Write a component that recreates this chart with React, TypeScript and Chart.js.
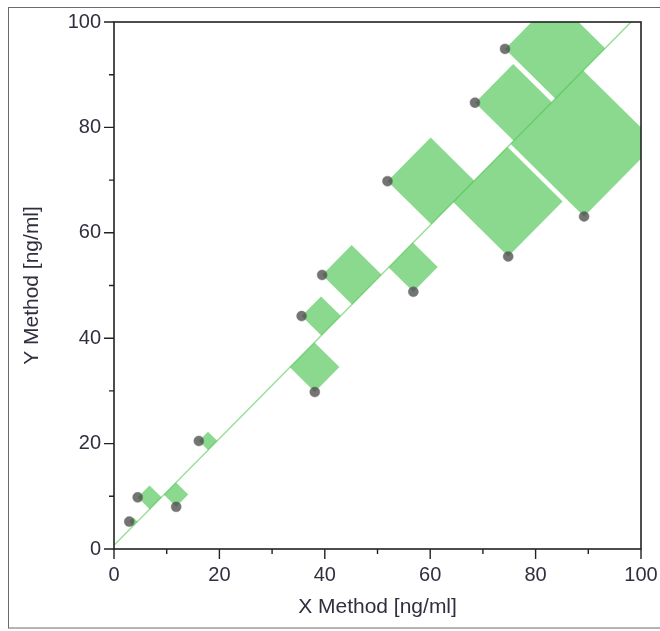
import React, { useEffect, useRef } from 'react';
import { Chart, registerables } from 'chart.js';

Chart.register(...registerables);

// Measured points (X method, Y method)
const X_VALUES = [2.9, 4.5, 11.8, 16.1, 35.6, 39.5, 38.1, 56.8, 51.9, 68.5, 74.2, 74.8, 89.2];
const Y_VALUES = [5.2, 9.8, 8.0, 20.5, 44.2, 52.0, 29.8, 48.8, 69.8, 84.7, 94.9, 55.5, 63.1];

// Regression line end points
const LINE_X = [0, 100];
const LINE_Y = [0.7, 101.9];

// Axis ticks
const MAJOR_TICKS = [0, 20, 40, 60, 80, 100];
const MINOR_TICKS = [10, 30, 50, 70, 90];

const X_TITLE = 'X Method [ng/ml]';
const Y_TITLE = 'Y Method [ng/ml]';

const FONT_FAMILY = "'Liberation Sans', Arial, sans-serif";
const TEXT_COLOR = '#2f2f40';

const LINE_INDEX = 1;

const squaresPlugin = {
  id: 'residualSquares',
  afterDatasetDraw(chart: any, args: any) {
    if (args.index !== LINE_INDEX) return;
    const { ctx, chartArea } = chart;
    const xs = chart.scales.x;
    const ys = chart.scales.y;
    const x0 = xs.getPixelForValue(LINE_X[0]);
    const y0 = ys.getPixelForValue(LINE_Y[0]);
    const x1 = xs.getPixelForValue(LINE_X[1]);
    const y1 = ys.getPixelForValue(LINE_Y[1]);
    let tx = x1 - x0;
    let ty = y1 - y0;
    const len = Math.hypot(tx, ty);
    tx /= len;
    ty /= len;
    ctx.save();
    ctx.beginPath();
    ctx.rect(chartArea.left, chartArea.top, chartArea.width, chartArea.height);
    ctx.clip();
    ctx.fillStyle = 'rgba(62,192,67,0.6)';
    for (let i = 0; i < X_VALUES.length; i++) {
      const px = xs.getPixelForValue(X_VALUES[i]);
      const py = ys.getPixelForValue(Y_VALUES[i]);
      const proj = (px - x0) * tx + (py - y0) * ty;
      const fx = x0 + proj * tx;
      const fy = y0 + proj * ty;
      const d = Math.hypot(px - fx, py - fy);
      ctx.beginPath();
      ctx.moveTo(px, py);
      ctx.lineTo(fx, fy);
      ctx.lineTo(fx + d * tx, fy + d * ty);
      ctx.lineTo(px + d * tx, py + d * ty);
      ctx.closePath();
      ctx.fill();
    }
    ctx.restore();
  },
};

const framePlugin = {
  id: 'axisFrame',
  afterDatasetsDraw(chart: any) {
    const { ctx, chartArea } = chart;
    const xs = chart.scales.x;
    const ys = chart.scales.y;
    const { left, top, right, bottom } = chartArea;
    ctx.save();
    ctx.strokeStyle = '#222';
    ctx.lineWidth = 1.6;
    ctx.strokeRect(left, top, right - left, bottom - top);
    ctx.lineWidth = 1.4;
    ctx.beginPath();
    MAJOR_TICKS.forEach((v) => {
      const px = xs.getPixelForValue(v);
      ctx.moveTo(px, bottom);
      ctx.lineTo(px, bottom + 10);
      const py = ys.getPixelForValue(v);
      ctx.moveTo(left, py);
      ctx.lineTo(left - 10, py);
    });
    MINOR_TICKS.forEach((v) => {
      const px = xs.getPixelForValue(v);
      ctx.moveTo(px, bottom);
      ctx.lineTo(px, bottom + 5);
      const py = ys.getPixelForValue(v);
      ctx.moveTo(left, py);
      ctx.lineTo(left - 5, py);
    });
    ctx.stroke();
    ctx.restore();
  },
  afterDraw(chart: any) {
    const { ctx } = chart;
    ctx.save();
    ctx.strokeStyle = '#6a6a6a';
    ctx.lineWidth = 1;
    ctx.strokeRect(8.5, 7.5, 700, 620.5);
    ctx.restore();
  },
};

export default function App() {
  const canvasRef = useRef<HTMLCanvasElement | null>(null);

  useEffect(() => {
    if (!canvasRef.current) return;
    const pointData = X_VALUES.map((x, i) => ({ x, y: Y_VALUES[i] }));
    const lineData = LINE_X.map((x, i) => ({ x, y: LINE_Y[i] }));
    const font = { family: FONT_FAMILY, size: 20 };
    const titleFont = { family: FONT_FAMILY, size: 21 };

    const chart = new Chart(canvasRef.current, {
      type: 'scatter',
      data: {
        datasets: [
          {
            label: 'Samples',
            data: pointData,
            order: 0,
            pointRadius: 5,
            pointHoverRadius: 5,
            backgroundColor: 'rgba(70,70,70,0.75)',
            borderColor: 'rgba(120,120,120,0.5)',
            borderWidth: 1,
          },
          {
            label: 'Regression',
            type: 'line',
            data: lineData,
            order: 1,
            borderColor: 'rgb(155,222,155)',
            borderWidth: 1.5,
            pointRadius: 0,
            fill: false,
          } as any,
        ],
      },
      options: {
        responsive: false,
        animation: false,
        devicePixelRatio: 1,
        layout: { padding: { left: 0, top: 22, right: 19, bottom: 0 } },
        plugins: {
          legend: { display: false },
          tooltip: { enabled: false },
        },
        scales: {
          x: {
            type: 'linear',
            min: 0,
            max: 100,
            ticks: { stepSize: 20, padding: 14, color: TEXT_COLOR, font },
            grid: { display: false, drawTicks: false, tickLength: 0 },
            border: { display: false },
            title: {
              display: true,
              text: X_TITLE,
              color: TEXT_COLOR,
              font: titleFont,
              padding: { top: 0, bottom: 11 },
            },
            afterFit: (s: any) => {
              s.height = 82;
              s.paddingLeft = 0;
              s.paddingRight = 0;
            },
          },
          y: {
            type: 'linear',
            min: 0,
            max: 100,
            ticks: { stepSize: 20, padding: 13, color: TEXT_COLOR, font },
            grid: { display: false, drawTicks: false, tickLength: 0 },
            border: { display: false },
            title: {
              display: true,
              text: Y_TITLE,
              color: TEXT_COLOR,
              font: titleFont,
              padding: { top: 20, bottom: 0 },
            },
            afterFit: (s: any) => {
              s.width = 114;
              s.paddingTop = 0;
              s.paddingBottom = 0;
            },
          },
        },
      },
      plugins: [squaresPlugin, framePlugin],
    });
    return () => chart.destroy();
  }, []);

  return (
    <div style={{ position: 'absolute', left: 0, top: 0, width: 660, height: 631, background: '#fff' }}>
      <canvas ref={canvasRef} width={660} height={631} style={{ display: 'block' }} />
    </div>
  );
}
